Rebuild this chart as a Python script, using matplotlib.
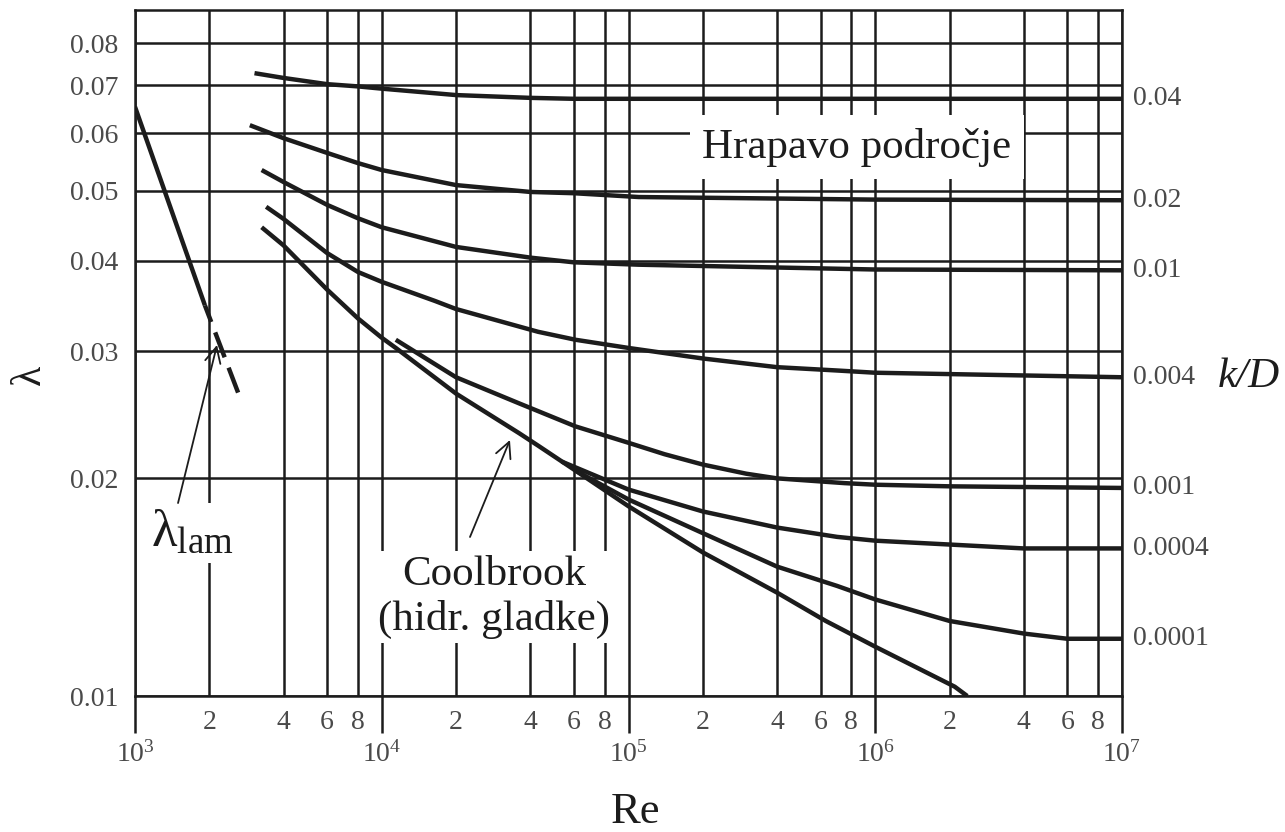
import matplotlib
matplotlib.use('Agg')
import matplotlib.pyplot as plt
import matplotlib.transforms as mtransforms
from matplotlib.ticker import FixedLocator, FixedFormatter, NullLocator

plt.rcParams['font.family'] = ['Liberation Serif', 'DejaVu Serif']
plt.rcParams['mathtext.fontset'] = 'custom'
plt.rcParams['mathtext.rm'] = 'Liberation Serif'
plt.rcParams['mathtext.it'] = 'Liberation Serif:italic'
plt.rcParams['mathtext.bf'] = 'Liberation Serif:bold'

INK = '#1c1c1c'
GREY = '#4a4a4a'

# laminar branch (solid part, then dashed continuation)
lam_re = [1000, 1920]
lam_f = [0.0653, 0.0347]
lam_dash_re = [1920, 2660]
lam_dash_f = [0.0347, 0.0259]

# rough pipes, k/D values
rough_labels = ['0.04', '0.02', '0.01', '0.004', '0.001', '0.0004', '0.0001']
rough_re = [
    [3050, 4000, 6000, 8000, 1e4, 2e4, 4e4, 6e4, 1e5, 1e6, 1e7],
    [2920, 4000, 6000, 8000, 1e4, 2e4, 4e4, 6e4, 1.1e5, 1e6, 1e7],
    [3260, 4000, 6000, 8000, 1e4, 2e4, 4e4, 6e4, 1.1e5, 1e6, 1e7],
    [3400, 4000, 6000, 8000, 1e4, 1.64e4, 2e4, 4.3e4, 6.1e4, 1e5, 2e5, 4e5,
     7e5, 1e6, 1e7],
    [11400, 2e4, 3.6e4, 6.1e4, 1e5, 1.4e5, 2e5, 3e5, 4e5, 7.5e5, 1e6, 2e6, 1e7],
    [5.36e4, 1e5, 2e5, 4e5, 7e5, 1e6, 2e6, 4e6, 1e7],
    [6.1e4, 1e5, 2e5, 4e5, 7e5, 1e6, 2e6, 4e6, 6e6, 1e7],
]
rough_f = [
    [0.0727, 0.0716, 0.0702, 0.0697, 0.0692, 0.0678, 0.0672, 0.0670, 0.0670,
     0.0670, 0.0670],
    [0.0616, 0.0591, 0.0564, 0.0546, 0.0534, 0.0509, 0.0498, 0.0496, 0.0490,
     0.0486, 0.0485],
    [0.0534, 0.0514, 0.0478, 0.0458, 0.0445, 0.0418, 0.0404, 0.0398, 0.0395,
     0.0389, 0.0388],
    [0.0475, 0.0457, 0.0410, 0.0386, 0.0374, 0.0352, 0.0343, 0.0319, 0.0311,
     0.0303, 0.0293, 0.0285, 0.0282, 0.0280, 0.0276],
    [0.0311, 0.0276, 0.0254, 0.0236, 0.0224, 0.0216, 0.0209, 0.0203, 0.0200,
     0.0197, 0.0196, 0.0195, 0.0194],
    [0.0211, 0.0193, 0.0180, 0.0171, 0.0166, 0.0164, 0.0162, 0.0160, 0.0160],
    [0.0205, 0.0187, 0.0168, 0.0151, 0.0142, 0.0136, 0.0127, 0.0122, 0.0120, 0.0120],
]

# hydraulically smooth pipe (Coolbrook)
smooth_re = [3260, 4000, 6000, 8000, 1e4, 11400, 2e4, 3.6e4, 4.3e4, 6.1e4,
             1e5, 2e5, 4e5, 6.3e5, 1e6, 2.1e6, 2.36e6]
smooth_f = [0.0445, 0.0420, 0.0365, 0.0333, 0.0313, 0.0303, 0.0262, 0.0231,
            0.0222, 0.0205, 0.0183, 0.0158, 0.0139, 0.0127, 0.0117, 0.0103, 0.0100]

# axis ticks
y_ticks = [0.01, 0.02, 0.03, 0.04, 0.05, 0.06, 0.07, 0.08]
y_tick_labels = ['0.01', '0.02', '0.03', '0.04', '0.05', '0.06', '0.07', '0.08']
x_major = [1e3, 1e4, 1e5, 1e6, 1e7]
x_major_labels = ['$10^{3}$', '$10^{4}$', '$10^{5}$', '$10^{6}$', '$10^{7}$']
x_minor = [m * d for d in [1e3, 1e4, 1e5, 1e6] for m in (2, 4, 6, 8)]
x_minor_labels = ['2', '4', '6', '8'] * 4

fig = plt.figure(figsize=(12.85, 8.32), dpi=100)
ax = fig.add_axes([135 / 1285, 1 - 696 / 832, 987 / 1285, 686 / 832])
ax.set_xscale('log')
ax.set_yscale('log')
ax.set_xlim(1e3, 1e7)
ax.set_ylim(0.01, 0.0889)

ax.xaxis.set_major_locator(FixedLocator(x_major))
ax.xaxis.set_major_formatter(FixedFormatter(x_major_labels))
ax.xaxis.set_minor_locator(FixedLocator(x_minor))
ax.xaxis.set_minor_formatter(FixedFormatter(x_minor_labels))
ax.yaxis.set_major_locator(FixedLocator(y_ticks))
ax.yaxis.set_major_formatter(FixedFormatter(y_tick_labels))
ax.yaxis.set_minor_locator(NullLocator())

ax.grid(True, which='major', color=INK, lw=1.8)
ax.grid(True, which='minor', axis='x', color=INK, lw=1.8)
ax.set_axisbelow(True)
for s in ax.spines.values():
    s.set_color(INK)
    s.set_linewidth(1.8)

ax.tick_params(axis='x', which='major', length=26.6, width=1.8, direction='out',
               color=INK, pad=6, labelsize=20, labelcolor=GREY)
ax.tick_params(axis='x', which='minor', length=0, pad=10, labelsize=20,
               labelcolor=GREY)
ax.tick_params(axis='y', which='major', length=0, pad=12, labelsize=20,
               labelcolor=GREY)

# curves
ax.plot(lam_re, lam_f, color=INK, lw=3.2, solid_capstyle='butt')
ax.plot(lam_dash_re, lam_dash_f, color=INK, lw=3.2, linestyle=(2, (6, 2.5)))
for re, f in zip(rough_re, rough_f):
    ax.plot(re, f, color=INK, lw=3.2, solid_capstyle='butt',
            solid_joinstyle='round')
ax.plot(smooth_re, smooth_f, color=INK, lw=3.2, solid_capstyle='butt',
        solid_joinstyle='round')

# k/D labels at the right-hand end of each curve
trans = mtransforms.blended_transform_factory(ax.transAxes, ax.transData)
for lab, f in zip(rough_labels, rough_f):
    ax.text(1.011, f[-1], lab, transform=trans, ha='left', va='center',
            fontsize=20, color=GREY)

# annotations
ax.text(0.7315, 0.800, 'Hrapavo področje', transform=ax.transAxes,
        ha='center', va='center', fontsize=31, color=INK,
        bbox=dict(facecolor='white', edgecolor='none', pad=9), zorder=5)
ax.text(0.3637, 0.1440, 'Coolbrook\n(hidr. gladke)', transform=ax.transAxes,
        ha='center', va='center', fontsize=31, color=INK, linespacing=1.18,
        bbox=dict(facecolor='white', edgecolor='none', pad=3), zorder=5)
ax.text(0.0578, 0.238, r'$\mathregular{\lambda_{lam}}$', transform=ax.transAxes,
        ha='center', va='center', fontsize=38, color=INK,
        bbox=dict(facecolor='white', edgecolor='none', pad=4), zorder=5)

arrow = dict(arrowstyle='->', color=INK, lw=1.3, mutation_scale=28,
             shrinkA=0, shrinkB=0)
ax.annotate('', xy=(0.0831, 0.5117), xytext=(0.0436, 0.2813),
            xycoords='axes fraction', arrowprops=arrow, zorder=6)
ax.annotate('', xy=(0.3799, 0.3732), xytext=(0.3394, 0.2318),
            xycoords='axes fraction', arrowprops=arrow, zorder=6)

# axis titles
fig.text(30 / 1285, 1 - 375 / 832, 'λ', rotation=90, fontsize=30,
         ha='center', va='center', color=INK)
fig.text(635 / 1285, 1 - 812 / 832, 'Re', fontsize=32,
         ha='center', va='center', color=INK)
fig.text(1218 / 1285, 1 - 377 / 832, 'k/D', fontsize=31, style='italic',
         ha='left', va='center', color=INK)

fig.savefig('out.png', dpi=100, facecolor='white')
